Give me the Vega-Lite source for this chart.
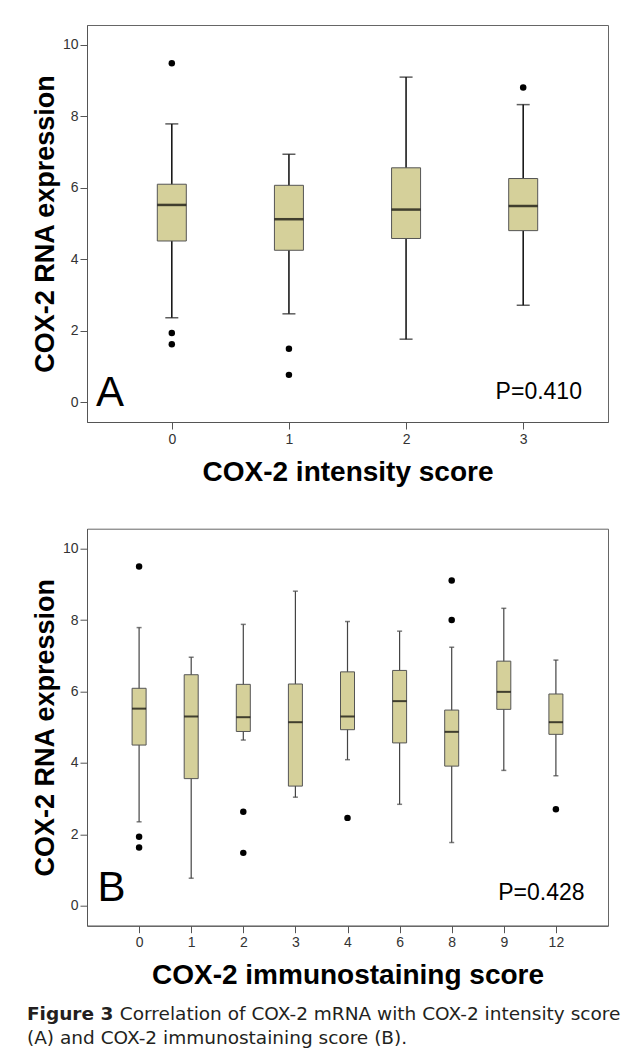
{
  "$schema": "https://vega.github.io/schema/vega-lite/v6.json",
  "padding": {"top": 24, "left": 26, "right": 5, "bottom": 5},
  "background": "white",
  "datasets": {
    "boxA": [
      {"g": 0, "lo": 2.36, "q1": 4.51, "med": 5.52, "q3": 6.10, "hi": 7.79},
      {"g": 1, "lo": 2.47, "q1": 4.25, "med": 5.12, "q3": 6.07, "hi": 6.94},
      {"g": 2, "lo": 1.76, "q1": 4.58, "med": 5.39, "q3": 6.56, "hi": 9.10},
      {"g": 3, "lo": 2.71, "q1": 4.80, "med": 5.49, "q3": 6.26, "hi": 8.33}
    ],
    "outA": [
      {"g": 0, "v": 9.49}, {"g": 0, "v": 1.93}, {"g": 0, "v": 1.62},
      {"g": 1, "v": 1.49}, {"g": 1, "v": 0.76},
      {"g": 3, "v": 8.81}
    ],
    "boxB": [
      {"g": 0, "lo": 2.35, "q1": 4.50, "med": 5.52, "q3": 6.09, "hi": 7.79},
      {"g": 1, "lo": 0.77, "q1": 3.56, "med": 5.30, "q3": 6.47, "hi": 6.96},
      {"g": 2, "lo": 4.64, "q1": 4.88, "med": 5.28, "q3": 6.20, "hi": 7.88},
      {"g": 3, "lo": 3.04, "q1": 3.35, "med": 5.14, "q3": 6.21, "hi": 8.81},
      {"g": 4, "lo": 4.09, "q1": 4.93, "med": 5.30, "q3": 6.55, "hi": 7.96},
      {"g": 6, "lo": 2.84, "q1": 4.56, "med": 5.73, "q3": 6.59, "hi": 7.69},
      {"g": 8, "lo": 1.77, "q1": 3.91, "med": 4.87, "q3": 5.48, "hi": 7.24},
      {"g": 9, "lo": 3.79, "q1": 5.50, "med": 5.99, "q3": 6.85, "hi": 8.33},
      {"g": 12, "lo": 3.64, "q1": 4.80, "med": 5.14, "q3": 5.93, "hi": 6.88}
    ],
    "outB": [
      {"g": 0, "v": 9.50}, {"g": 0, "v": 1.93}, {"g": 0, "v": 1.63},
      {"g": 2, "v": 2.63}, {"g": 2, "v": 1.48},
      {"g": 4, "v": 2.46},
      {"g": 8, "v": 9.11}, {"g": 8, "v": 8.00},
      {"g": 12, "v": 2.70}
    ]
  },
  "bounds": "flush",
  "spacing": 106.7,
  "vconcat": [
    {
      "width": 521,
      "height": 397,
      "layer": [
        {
          "layer": [
            {
              "data": {"name": "boxA"},
              "mark": {"type": "rule", "color": "#1a1a1a", "strokeWidth": 1.6},
              "encoding": {
                "x": {"field": "g", "type": "ordinal", "scale": {"type": "point", "padding": 0.724},
                      "axis": {"title": "COX-2 intensity score", "labelAngle": 0, "labelPadding": 3, "titlePadding": 12, "titleFontSize": 28}},
                "y": {"field": "lo", "type": "quantitative", "scale": {"domain": [-0.56, 10.56], "nice": false, "zero": false},
                      "axis": {"values": [0, 2, 4, 6, 8, 10], "title": "COX-2 RNA expression", "titleFontSize": 27, "titlePadding": 3}},
                "y2": {"field": "hi"}
              }
            },
            {
              "data": {"name": "boxA"},
              "mark": {"type": "tick", "color": "#1a1a1a", "thickness": 1.5, "size": 13},
              "encoding": {"x": {"field": "g", "type": "ordinal"}, "y": {"field": "lo", "type": "quantitative"}}
            },
            {
              "data": {"name": "boxA"},
              "mark": {"type": "tick", "color": "#1a1a1a", "thickness": 1.5, "size": 13},
              "encoding": {"x": {"field": "g", "type": "ordinal"}, "y": {"field": "hi", "type": "quantitative"}}
            },
            {
              "data": {"name": "boxA"},
              "mark": {"type": "bar", "size": 29, "fill": "#D5D09A", "stroke": "#555", "strokeWidth": 1},
              "encoding": {"x": {"field": "g", "type": "ordinal"}, "y": {"field": "q1", "type": "quantitative"}, "y2": {"field": "q3"}}
            },
            {
              "data": {"name": "boxA"},
              "mark": {"type": "tick", "color": "#000", "thickness": 2.5, "size": 29},
              "encoding": {"x": {"field": "g", "type": "ordinal"}, "y": {"field": "med", "type": "quantitative"}}
            },
            {
              "data": {"name": "outA"},
              "mark": {"type": "point", "filled": true, "color": "#000", "opacity": 1, "size": 42},
              "encoding": {"x": {"field": "g", "type": "ordinal"}, "y": {"field": "v", "type": "quantitative"}}
            }
          ]
        },
        {
          "data": {"values": [{"label": "A"}]},
          "mark": {"type": "text", "font": "Liberation Sans", "fontSize": 42, "align": "left", "baseline": "alphabetic", "color": "#000"},
          "encoding": {
            "x": {"datum": 0.0173, "type": "quantitative", "scale": {"domain": [0, 1]}, "axis": null},
            "y": {"datum": -0.11, "type": "quantitative"},
            "text": {"field": "label"}
          }
        },
        {
          "data": {"values": [{"label": "P=0.410"}]},
          "mark": {"type": "text", "font": "Liberation Sans", "fontSize": 23, "align": "right", "baseline": "alphabetic", "color": "#000"},
          "encoding": {
            "x": {"datum": 0.95, "type": "quantitative", "scale": {"domain": [0, 1]}, "axis": null},
            "y": {"datum": 0.084, "type": "quantitative"},
            "text": {"field": "label"}
          }
        }
      ],
      "resolve": {"scale": {"x": "independent"}}
    },
    {
      "width": 521,
      "height": 397,
      "layer": [
        {
          "layer": [
            {
              "data": {"name": "boxB"},
              "mark": {"type": "rule", "color": "#444", "strokeWidth": 1.2},
              "encoding": {
                "x": {"field": "g", "type": "ordinal", "scale": {"type": "point", "padding": 1},
                      "axis": {"title": "COX-2 immunostaining score", "labelAngle": 0, "labelPadding": 3, "titlePadding": 12, "titleFontSize": 28}},
                "y": {"field": "lo", "type": "quantitative", "scale": {"domain": [-0.56, 10.56], "nice": false, "zero": false},
                      "axis": {"values": [0, 2, 4, 6, 8, 10], "title": "COX-2 RNA expression", "titleFontSize": 27, "titlePadding": 3}},
                "y2": {"field": "hi"}
              }
            },
            {
              "data": {"name": "boxB"},
              "mark": {"type": "tick", "color": "#444", "thickness": 1.5, "size": 5},
              "encoding": {"x": {"field": "g", "type": "ordinal"}, "y": {"field": "lo", "type": "quantitative"}}
            },
            {
              "data": {"name": "boxB"},
              "mark": {"type": "tick", "color": "#444", "thickness": 1.5, "size": 5},
              "encoding": {"x": {"field": "g", "type": "ordinal"}, "y": {"field": "hi", "type": "quantitative"}}
            },
            {
              "data": {"name": "boxB"},
              "mark": {"type": "bar", "size": 14, "fill": "#D5D09A", "stroke": "#555", "strokeWidth": 1},
              "encoding": {"x": {"field": "g", "type": "ordinal"}, "y": {"field": "q1", "type": "quantitative"}, "y2": {"field": "q3"}}
            },
            {
              "data": {"name": "boxB"},
              "mark": {"type": "tick", "color": "#000", "thickness": 2, "size": 14},
              "encoding": {"x": {"field": "g", "type": "ordinal"}, "y": {"field": "med", "type": "quantitative"}}
            },
            {
              "data": {"name": "outB"},
              "mark": {"type": "point", "filled": true, "color": "#000", "opacity": 1, "size": 42},
              "encoding": {"x": {"field": "g", "type": "ordinal"}, "y": {"field": "v", "type": "quantitative"}}
            }
          ]
        },
        {
          "data": {"values": [{"label": "B"}]},
          "mark": {"type": "text", "font": "Liberation Sans", "fontSize": 42, "align": "left", "baseline": "alphabetic", "color": "#000"},
          "encoding": {
            "x": {"datum": 0.0203, "type": "quantitative", "scale": {"domain": [0, 1]}, "axis": null},
            "y": {"datum": 0.14, "type": "quantitative"},
            "text": {"field": "label"}
          }
        },
        {
          "data": {"values": [{"label": "P=0.428"}]},
          "mark": {"type": "text", "font": "Liberation Sans", "fontSize": 23, "align": "right", "baseline": "alphabetic", "color": "#000"},
          "encoding": {
            "x": {"datum": 0.955, "type": "quantitative", "scale": {"domain": [0, 1]}, "axis": null},
            "y": {"datum": 0.149, "type": "quantitative"},
            "text": {"field": "label"}
          }
        }
      ],
      "resolve": {"scale": {"x": "independent"}}
    },
    {
      "width": 521,
      "height": 20,
      "view": {"stroke": null},
      "layer": [
        {
          "data": {"values": [{"t": "Figure 3"}]},
          "mark": {"type": "text", "font": "DejaVu Sans", "fontSize": 18.5, "fontWeight": "bold", "align": "left", "baseline": "alphabetic", "color": "#231f20"},
          "encoding": {
            "x": {"datum": -0.1152, "type": "quantitative", "scale": {"domain": [0, 1]}, "axis": null},
            "y": {"datum": -0.62, "type": "quantitative", "scale": {"domain": [0, 1], "reverse": true}, "axis": null},
            "text": {"field": "t"}
          }
        },
        {
          "data": {"values": [{"t": "Correlation of COX-2 mRNA with COX-2 intensity score"}]},
          "mark": {"type": "text", "font": "DejaVu Sans", "fontSize": 18.5, "align": "left", "baseline": "alphabetic", "color": "#231f20"},
          "encoding": {
            "x": {"datum": 0.063, "type": "quantitative"},
            "y": {"datum": -0.62, "type": "quantitative"},
            "text": {"field": "t"}
          }
        },
        {
          "data": {"values": [{"t": "(A) and COX-2 immunostaining score (B)."}]},
          "mark": {"type": "text", "font": "DejaVu Sans", "fontSize": 18.5, "align": "left", "baseline": "alphabetic", "color": "#231f20"},
          "encoding": {
            "x": {"datum": -0.1152, "type": "quantitative"},
            "y": {"datum": 0.58, "type": "quantitative"},
            "text": {"field": "t"}
          }
        }
      ]
    }
  ],
  "config": {
    "view": {"stroke": "#666", "strokeWidth": 1},
    "axis": {
      "grid": false,
      "domainColor": "#555",
      "tickColor": "#555",
      "labelColor": "#333",
      "labelFont": "Liberation Sans Narrow, Arial Narrow, Liberation Sans",
      "labelFontSize": 14,
      "titleFont": "Liberation Sans",
      "titleColor": "#000",
      "titleFontWeight": "bold",
      "tickSize": 7
    }
  }
}
